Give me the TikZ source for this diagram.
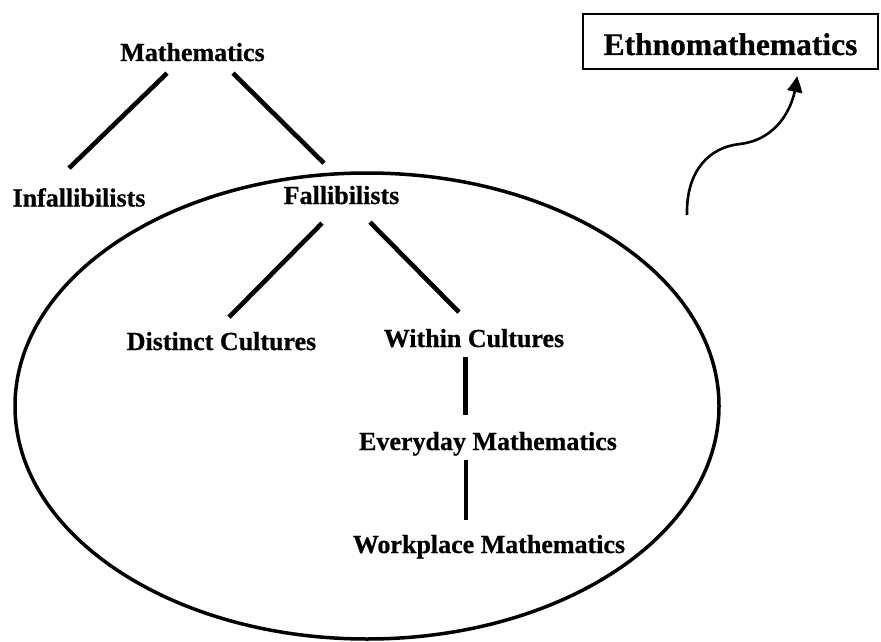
\documentclass[tikz,border=0pt]{standalone}
\usepackage{fontspec}
\setmainfont[BoldFeatures={FakeBold=0.7}]{Liberation Serif}
\usetikzlibrary{calc,arrows.meta,bending}

\tikzset{
  label/.style={inner sep=0pt, anchor=base, text depth=0pt, font=\fontsize{26}{30}\selectfont\bfseries},
  link/.style={line width=4.6pt},
  boxed/.style={draw, line width=2pt, inner sep=0pt, minimum width=295pt, minimum height=55pt,
                text height=27pt, text depth=0pt, font=\fontsize{31.5}{36}\selectfont\bfseries},
  curvearrow/.style={line width=2.6pt, -{Triangle[length=16pt,width=15pt,bend]}}
}

\begin{document}
\begin{tikzpicture}[x=1pt, y=-1pt]
  \useasboundingbox (0,0) rectangle (881,642);

  % the fallibilist region
  \draw[line width=3.5pt] (367,406) ellipse [x radius=352, y radius=233];

  % labels of the tree
  \node[label] (math)     at (192.5,61)  {Mathematics};
  \node[label] (infall)   at (79,206.5)  {Infallibilists};
  \node[label] (fall)     at (341.5,204) {Fallibilists};
  \node[label] (distinct) at (221.5,350) {Distinct Cultures};
  \node[label] (within)   at (474,347)   {Within Cultures};
  \node[label] (everyday) at (488,450)   {Everyday Mathematics};
  \node[label] (work)     at (489,553)   {Workplace Mathematics};

  % boxed label at the top right
  \node[boxed] (eth) at (730.5,41.5) {Ethnomathematics};

  % branches
  \draw[link] ($(math.south)+(-25.5,12)$) -- ($(infall.south)+(-10,-38.5)$);
  \draw[link] ($(math.south)+(40.5,12)$) -- ($(fall.south)+(-17.5,-41)$);
  \draw[link] ($(fall.south)+(-19.5,19)$) -- ($(distinct.south)+(7.5,-33)$);
  \draw[link] ($(fall.south)+(28.5,18)$) -- ($(within.south)+(-15,-35)$);
  \draw[link] ($(within.south)+(-8.5,10)$) -- ($(everyday.south)+(-22.5,-35)$);
  \draw[link] ($(everyday.south)+(-22,10)$) -- ($(work.south)+(-23,-33)$);

  % curved arrow toward the boxed label
  \coordinate (arrowstart) at (687,215);
  \draw[curvearrow] (arrowstart) .. controls (686,170) and (710,147) .. (740,144)
        .. controls (775,140) and (795,110) .. ($(eth.south)+(66.5,6)$);
\end{tikzpicture}
\end{document}
